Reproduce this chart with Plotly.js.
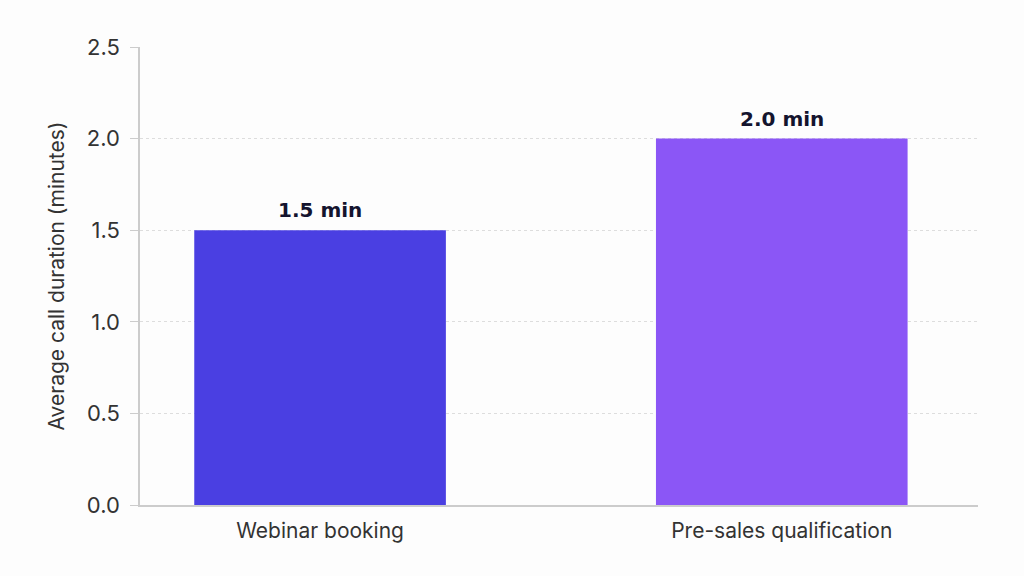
<!DOCTYPE html>
<html>
<head>
<meta charset="utf-8">
<script src="https://cdn.plot.ly/plotly-3.0.1.min.js"></script>
<style>
  html, body { margin: 0; padding: 0; background: #fdfdfd; }
  #chart { width: 1024px; height: 576px; }
</style>
</head>
<body>
<div id="chart"></div>
<script>
var categories = ['Webinar booking', 'Pre-sales qualification'];
var durations = [1.5, 2.0];
var bar_labels = ['1.5 min', '2.0 min'];
var bar_colors = ['#4a3fe2', '#8b56f6'];

var data = [{
    type: 'bar',
    x: categories,
    y: durations,
    width: 0.545,
    marker: {color: bar_colors},
    hoverinfo: 'none'
}];

// value labels above the bars
var notes = [];
for (var i = 0; i < categories.length; i++) {
    notes.push({
        x: categories[i],
        y: durations[i],
        text: bar_labels[i],
        showarrow: false,
        yanchor: 'bottom',
        yshift: 6,
        font: {family: 'DejaVu Sans', size: 20, color: '#14142e', weight: 'bold'}
    });
}

var layout = {
    width: 1024,
    height: 576,
    margin: {l: 140, r: 46, t: 47, b: 71},
    paper_bgcolor: '#fdfdfd',
    plot_bgcolor: '#fdfdfd',
    showlegend: false,
    font: {family: 'Inter, sans-serif', color: '#333'},
    annotations: notes,
    xaxis: {
        range: [-0.39, 1.425],
        showline: true,
        linecolor: '#cccccc',
        linewidth: 1.5,
        ticks: '',
        ticklabelstandoff: 6,
        tickfont: {size: 21, color: '#333'},
        showgrid: false
    },
    yaxis: {
        range: [0, 2.5],
        dtick: 0.5,
        tickformat: '.1f',
        showline: true,
        linecolor: '#cccccc',
        linewidth: 1.5,
        ticks: 'outside',
        ticklen: 8,
        tickcolor: '#cccccc',
        ticklabelstandoff: 6,
        tickfont: {size: 22, color: '#333'},
        gridcolor: '#dddddd',
        griddash: 'dot',
        zeroline: false,
        title: {text: 'Average call duration (minutes)', font: {size: 21, color: '#333'}, standoff: 16}
    }
};

Plotly.newPlot('chart', data, layout, {displayModeBar: false});
</script>
</body>
</html>
